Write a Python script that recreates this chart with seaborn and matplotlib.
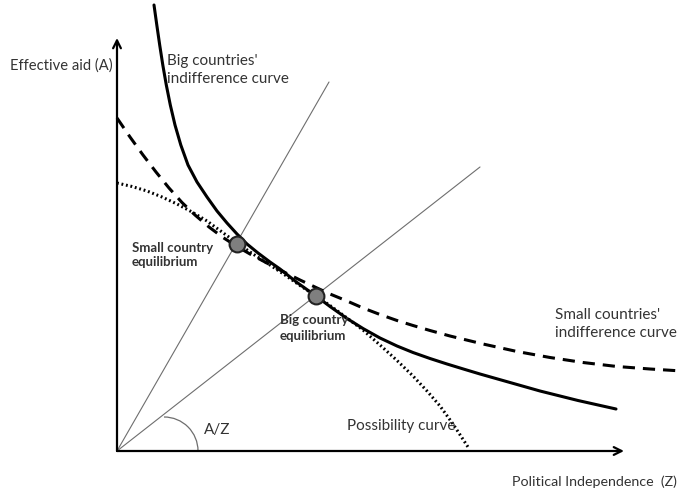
import seaborn as sns
import matplotlib.pyplot as plt
from matplotlib.patches import Arc

# data (Z = political independence, A = effective aid)
big_z = [37, 39.8, 42.7, 45.8, 49.3, 53.3, 58, 63.8, 71, 80, 90, 100, 110, 120, 130, 141, 153,
         163, 180, 199, 213, 230, 246, 263, 280, 296, 313, 330, 348, 363, 393, 423, 461, 499]
big_a = [446, 426, 406, 386, 366, 346, 326, 306, 286, 269, 254, 240, 228, 217, 207, 198, 189,
         182, 168.5, 155, 144.5, 132.5, 122.5, 113, 105, 98.5, 92.5, 87, 81.5, 77, 68.5, 60,
         50.5, 42]

small_z = [0, 13, 26, 39, 52, 65, 78, 92, 106, 120, 133, 148, 163, 183, 199, 213, 230,
           246, 263, 280, 296, 313, 333, 366, 400, 433, 466, 500, 533, 565]
small_a = [333, 314, 296, 279, 263, 248.5, 236, 224, 213.5, 204.5, 197, 189, 181, 171, 163.5,
           157, 150, 143, 136.5, 130.5, 125.5, 120.5, 115, 107, 99.5, 93.5, 88.5, 84.5, 82, 80]

poss_z = [0, 15, 30, 45, 60, 75, 90, 105, 120, 136, 153, 168, 183, 199, 213, 230, 246,
          263, 280, 296, 310, 323, 336, 351]
poss_a = [268, 264.5, 260, 254, 247, 239, 230, 219, 208, 197, 186, 176, 165.5, 155, 145.5,
          133, 121, 106, 90.5, 75, 60, 45, 27, 4]

# equilibrium points
eq_z = [120, 199]
eq_a = [207, 155]

# rays from the origin (end points)
ray_end_z = [212, 363]
ray_end_a = [369, 284]

# colours
ink = "#000000"
ray_col = "#6e6e6e"
text_col = "#333333"

sns.set_style("white")
plt.rcParams['font.family'] = ['Lato', 'DejaVu Sans']

fig = plt.figure(figsize=(6.89, 4.95), dpi=100)
ax = fig.add_axes([0, 0, 1, 1])

# rays
for rz, ra in zip(ray_end_z, ray_end_a):
    sns.lineplot(x=[0, rz], y=[0, ra], ax=ax, color=ray_col, linewidth=0.8,
                 sort=False, estimator=None, errorbar=None)

# curves
sns.lineplot(x=poss_z, y=poss_a, ax=ax, color=ink, linewidth=2.2, linestyle=(0, (0.6, 0.9)),
             sort=False, estimator=None, errorbar=None)
sns.lineplot(x=small_z, y=small_a, ax=ax, color=ink, linewidth=2.2, linestyle=(0, (4, 2.6)),
             sort=False, estimator=None, errorbar=None)
sns.lineplot(x=big_z, y=big_a, ax=ax, color=ink, linewidth=2.2,
             sort=False, estimator=None, errorbar=None)

# equilibria
sns.scatterplot(x=eq_z, y=eq_a, ax=ax, s=130, color="#7f7f7f", edgecolor="#222222",
                linewidth=1.5, zorder=5)

# A/Z angle arc
ax.add_patch(Arc((47, 0), 68, 68, theta1=0, theta2=90, color=ray_col, linewidth=0.9))

# axes with arrows
ax.annotate('', xy=(0, 413), xytext=(0, 0),
            arrowprops=dict(arrowstyle='->', lw=1.6, color=ink, shrinkA=0, shrinkB=0,
                            mutation_scale=14))
ax.annotate('', xy=(507, 0), xytext=(0, 0),
            arrowprops=dict(arrowstyle='->', lw=1.6, color=ink, shrinkA=0, shrinkB=0,
                            mutation_scale=14))

# labels
ax.text(-107, 385, "Effective aid (A)", fontsize=10.6, color=text_col, va='center')
ax.text(50, 381, "Big countries'\nindifference curve", fontsize=11, color=text_col,
        va='center', linespacing=1.35)
ax.text(15, 196, "Small country\nequilibrium", fontsize=9.5, color=text_col,
        va='center', linespacing=1.3, fontweight='bold')
ax.text(163, 123, "Big country\nequilibrium", fontsize=9.5, color=text_col,
        va='center', linespacing=1.3, fontweight='bold')
ax.text(438, 127, "Small countries'\nindifference curve", fontsize=11, color=text_col,
        va='center', linespacing=1.45)
ax.text(230, 25, "Possibility curve", fontsize=11, color=text_col, va='center')
ax.text(87, 21, "A/Z", fontsize=11, color=text_col, va='center')
ax.text(395, -31, "Political Independence  (Z)", fontsize=10.3, color=text_col, va='center')

ax.set_xlim(-117, 572)
ax.set_ylim(-44, 451)
ax.axis('off')

plt.savefig('out.png', dpi=100)
